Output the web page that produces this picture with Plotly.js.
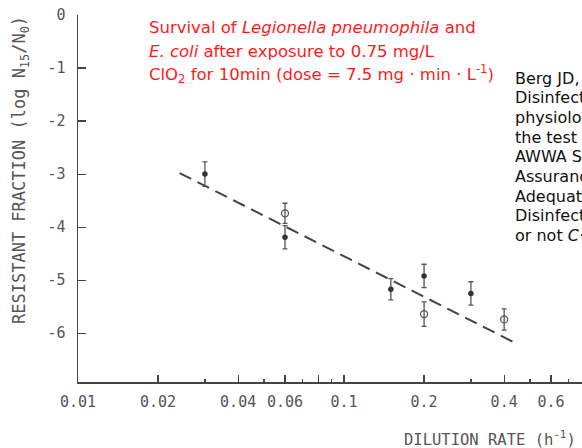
<!DOCTYPE html>
<html>
<head>
<meta charset="utf-8">
<script src="https://cdn.plot.ly/plotly-3.0.1.min.js"></script>
<style>
html,body{margin:0;padding:0;background:#fff;}
#chart{width:582px;height:448px;}
</style>
</head>
<body>
<div id="chart"></div>
<script>
// ---- data ----
const filledX = [0.03, 0.06, 0.15, 0.2, 0.3];
const filledY = [-3.0, -4.19, -5.17, -4.92, -5.25];
const filledErr = [0.23, 0.22, 0.2, 0.22, 0.22];

const openX = [0.06, 0.2, 0.4];
const openY = [-3.74, -5.64, -5.74];
const openErr = [0.19, 0.23, 0.2];

const fitX = [0.0241, 0.443];
const fitY = [-2.98, -6.19];

const xTickVals = [0.01, 0.02, 0.04, 0.06, 0.08, 0.1, 0.2, 0.4, 0.6];
const xTickText = ['0.01', '0.02', '0.04', '0.06', ' ', '0.1', '0.2', '0.4', '0.6'];
const xMinorVals = [0.03, 0.05, 0.07, 0.09, 0.3, 0.5, 0.7];
const yTickVals = [0, -1, -2, -3, -4, -5, -6];
const yTickText = ['0', '-1', '-2', '-3', '-4', '-5', '-6'];

const titleLines = [
  'Survival of <i>Legionella pneumophila</i> and',
  '<i>E. coli</i> after exposure to 0.75 mg/L',
  'ClO<sub>2</sub> for 10min (dose = 7.5 mg · min · L<sup>-1</sup>)'
];
const refLines = [
  'Berg JD, et al.',
  'Disinfection resistance:',
  'physiological state of',
  'the test organism.',
  'AWWA Seminar on',
  'Assurance of',
  'Adequate',
  'Disinfection, or C·T',
  'or not <i>C·T</i>'
];
const xTitle = 'DILUTION RATE (h<sup>-1</sup>)';
const yTitle = 'RESISTANT FRACTION (log N<sub>15</sub>/N<sub>0</sub>)';

const ink = '#333333';
const grey = '#555555';
const mono = '"DejaVu Sans Mono", "Liberation Mono", monospace';
const sans = '"DejaVu Sans", "Noto Sans", sans-serif';

// pixel helpers for text placement (plot area: top 15, height 367, left 78, width 504)
const py = p => 1 - (p - 15) / 367;
const px = p => (p - 78) / 504;

const traces = [
  {
    x: fitX, y: fitY, type: 'scatter', mode: 'lines',
    line: {color: '#444', width: 2, dash: '13px,7px'},
    hoverinfo: 'skip', showlegend: false
  },
  {
    x: filledX, y: filledY, type: 'scatter', mode: 'markers',
    marker: {symbol: 'circle', size: 5.5, color: ink},
    error_y: {type: 'data', array: filledErr, visible: true, color: grey, thickness: 1.3, width: 2.5},
    showlegend: false
  },
  {
    x: openX, y: openY, type: 'scatter', mode: 'markers',
    marker: {symbol: 'circle-open', size: 7, color: grey, line: {width: 1.3, color: grey}},
    error_y: {type: 'data', array: openErr, visible: true, color: grey, thickness: 1.3, width: 2.5},
    showlegend: false
  }
];

const annotations = [];
const titleY = [28, 51, 74];
titleLines.forEach((t, i) => annotations.push({
  xref: 'paper', yref: 'paper', x: px(147), y: py(titleY[i]), xanchor: 'left', yanchor: 'middle',
  text: t, align: 'left', showarrow: false,
  font: {family: sans, size: 16.5, color: '#ff1a1a'}
}));
refLines.forEach((t, i) => annotations.push({
  xref: 'paper', yref: 'paper', x: px(513), y: py(78 + i * 19.7), xanchor: 'left', yanchor: 'middle',
  text: t, align: 'left', showarrow: false,
  font: {family: sans, size: 16, color: '#111'}
}));
annotations.push({
  xref: 'paper', yref: 'paper', x: px(578), y: py(438), xanchor: 'right', yanchor: 'middle',
  text: xTitle, showarrow: false,
  font: {family: mono, size: 15.5, color: grey}
});
annotations.push({
  xref: 'paper', yref: 'paper', x: px(20), y: py(170), xanchor: 'center', yanchor: 'middle',
  text: yTitle, textangle: -90, showarrow: false,
  font: {family: mono, size: 17, color: grey}
});

const layout = {
  width: 582, height: 448,
  margin: {l: 78, r: 0, t: 15, b: 66, pad: 0},
  paper_bgcolor: '#fff', plot_bgcolor: '#fff',
  showlegend: false,
  xaxis: {
    type: 'log', range: [-2, -0.1053], autorange: false,
    showgrid: false, zeroline: false,
    showline: true, linecolor: '#444', linewidth: 1.5,
    ticks: 'inside', ticklen: 7, tickwidth: 1.2, tickcolor: '#444',
    tickmode: 'array', tickvals: xTickVals, ticktext: xTickText,
    minor: {tickmode: 'array', tickvals: xMinorVals, ticks: 'inside', ticklen: 3, tickwidth: 1.2, tickcolor: '#444', showgrid: false},
    tickfont: {family: mono, size: 15, color: grey},
    ticklabelstandoff: 5
  },
  yaxis: {
    range: [-6.92, 0], autorange: false,
    showgrid: false, zeroline: false,
    showline: true, linecolor: '#444', linewidth: 1.5,
    ticks: 'inside', ticklen: 8, tickwidth: 1.2, tickcolor: '#444',
    tickmode: 'array', tickvals: yTickVals, ticktext: yTickText,
    tickfont: {family: mono, size: 15, color: grey},
    ticklabelstandoff: 8
  },
  annotations: annotations
};

Plotly.newPlot('chart', traces, layout, {displayModeBar: false, staticPlot: true});
</script>
</body>
</html>
